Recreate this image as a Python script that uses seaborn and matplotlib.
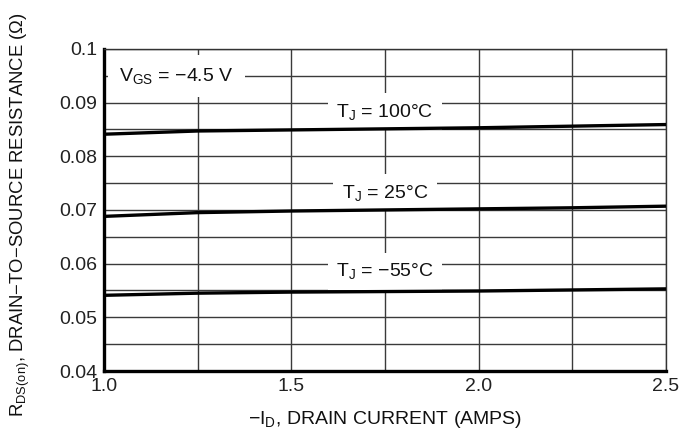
import numpy as np
import pandas as pd
import seaborn as sns
import matplotlib.pyplot as plt

# drain current (A)
current = [1.0, 1.25, 1.5, 1.75, 2.0, 2.25, 2.5]

# R_DS(on) (ohm)
r_100 = [0.0841, 0.0847, 0.0849, 0.0851, 0.0853, 0.0856, 0.0859]
r_25 = [0.0688, 0.0695, 0.0698, 0.0700, 0.0702, 0.0704, 0.0707]
r_m55 = [0.0541, 0.0545, 0.0547, 0.0548, 0.0549, 0.0551, 0.0553]

temps = ['100', '25', '-55']
label_pos = {'100': (1.75, 0.0883, r'T$_\mathregular{J}$ = 100°C'),
             '25': (1.75, 0.0732, r'T$_\mathregular{J}$ = 25°C'),
             '-55': (1.75, 0.0586, r'T$_\mathregular{J}$ = −55°C')}

df = pd.concat([
    pd.DataFrame({'current': current, 'r': r_100, 'temp': '100'}),
    pd.DataFrame({'current': current, 'r': r_25, 'temp': '25'}),
    pd.DataFrame({'current': current, 'r': r_m55, 'temp': '-55'}),
])

sns.set_style('white')
plt.rcParams['font.family'] = ['Liberation Sans', 'DejaVu Sans']
plt.rcParams['mathtext.fontset'] = 'custom'
plt.rcParams['mathtext.rm'] = 'Liberation Sans'
plt.rcParams['mathtext.it'] = 'Liberation Sans'

fig = plt.figure(figsize=(6.82, 4.36), dpi=100)
ax = fig.add_axes([0.1525, 0.149, 0.824, 0.739])

sns.lineplot(data=df, x='current', y='r', hue='temp', hue_order=temps,
             palette=['black'] * 3, linewidth=2.4, legend=False, ax=ax, zorder=3)

ax.set_xlim(1.0, 2.5)
ax.set_ylim(0.04, 0.1)
ax.set_xticks([1.0, 1.5, 2.0, 2.5])
ax.set_xticklabels(['1.0', '1.5', '2.0', '2.5'])
ax.set_yticks([0.04, 0.05, 0.06, 0.07, 0.08, 0.09, 0.1])
ax.set_yticklabels(['0.04', '0.05', '0.06', '0.07', '0.08', '0.09', '0.1'])
ax.set_xticks(np.arange(1.0, 2.51, 0.25), minor=True)
ax.set_yticks(np.arange(0.04, 0.1001, 0.005), minor=True)
ax.grid(which='both', color='#3a3a3a', linewidth=1.0, zorder=1)
ax.tick_params(which='both', length=0, labelsize=14, pad=5, colors='#222222')
ax.set_axisbelow(True)

for side in ['top', 'right']:
    ax.spines[side].set_linewidth(1.0)
    ax.spines[side].set_color('#333333')
for side in ['left', 'bottom']:
    ax.spines[side].set_linewidth(2.4)
    ax.spines[side].set_color('black')

box = dict(facecolor='white', edgecolor='none', pad=6)
for t in temps:
    x, y, s = label_pos[t]
    ax.text(x, y, s, ha='center', va='center', fontsize=14, color='#111111',
            bbox=box, zorder=2)
ax.text(1.04, 0.0950, r'V$_\mathregular{GS}$ = −4.5 V', ha='left', va='center',
        fontsize=14, color='#111111', bbox=dict(facecolor='white', edgecolor='none', pad=8),
        zorder=2)

ax.set_xlabel(r'−I$_\mathregular{D}$, DRAIN CURRENT (AMPS)', fontsize=14,
              color='#111111', labelpad=10)
ax.set_ylabel(r'R$_\mathregular{DS(on)}$, DRAIN−TO−SOURCE RESISTANCE (Ω)',
              fontsize=13.3, color='#111111')
ax.yaxis.set_label_coords(-0.128, 0.485)

fig.savefig('out.png', dpi=100)
